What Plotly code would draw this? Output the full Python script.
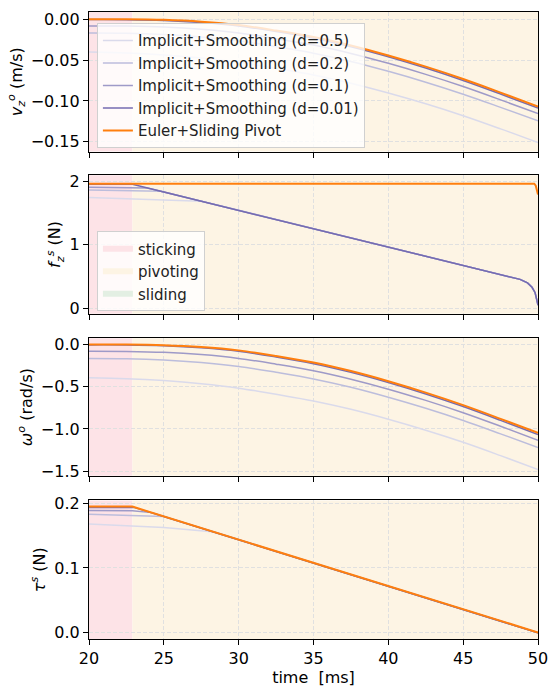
import plotly.graph_objects as go
from plotly.subplots import make_subplots

# ---- data -------------------------------------------------------------
t_grid = [20, 22.5, 25, 27.5, 30, 32.5, 35, 37.5, 40, 42.5, 45, 47.5, 50]

labels = ["Implicit+Smoothing (d=0.5)", "Implicit+Smoothing (d=0.2)",
          "Implicit+Smoothing (d=0.1)", "Implicit+Smoothing (d=0.01)",
          "Euler+Sliding Pivot"]
colors = ["#dadaeb", "#bcbddc", "#9e9ac8", "#756bb1", "#ff7f0e"]
widths = [1.5, 1.5, 1.5, 1.5, 2.0]

# object velocity v_z^o [m/s]
vz_d05 = [-0.0403, -0.0413, -0.0437, -0.0474, -0.0527, -0.0602, -0.0682, -0.0783, -0.0903, -0.1035, -0.1181, -0.1342, -0.1510]
vz_d02 = [-0.0168, -0.0171, -0.0187, -0.0217, -0.0265, -0.0337, -0.0416, -0.0517, -0.0638, -0.0771, -0.0918, -0.1079, -0.1244]
vz_d01 = [-0.0082, -0.0084, -0.0095, -0.0122, -0.0168, -0.0238, -0.0317, -0.0419, -0.0540, -0.0675, -0.0824, -0.0987, -0.1156]
vz_d001 = [-0.0005, -0.0006, -0.0016, -0.0041, -0.0083, -0.0151, -0.0232, -0.0336, -0.0459, -0.0598, -0.0750, -0.0916, -0.1088]
vz_euler = [0.0, 0.0, -0.0008, -0.0030, -0.0071, -0.0139, -0.0218, -0.0321, -0.0444, -0.0581, -0.0732, -0.0898, -0.1068]

# object angular velocity omega^o [rad/s]
w_d05 = [-0.395, -0.405, -0.428, -0.465, -0.517, -0.590, -0.669, -0.768, -0.885, -1.015, -1.158, -1.316, -1.480]
w_d02 = [-0.165, -0.168, -0.183, -0.213, -0.260, -0.330, -0.408, -0.507, -0.625, -0.756, -0.900, -1.058, -1.220]
w_d01 = [-0.080, -0.082, -0.093, -0.120, -0.165, -0.233, -0.311, -0.411, -0.529, -0.662, -0.808, -0.968, -1.133]
w_d001 = [-0.005, -0.006, -0.016, -0.040, -0.081, -0.148, -0.227, -0.329, -0.450, -0.586, -0.735, -0.898, -1.067]
w_euler = [0.0, 0.0, -0.008, -0.030, -0.070, -0.136, -0.214, -0.315, -0.435, -0.570, -0.718, -0.880, -1.047]

# normal contact force f_z^s [N]
fz_t_d001 = [20, 22.9, 25, 30, 35, 40, 45, 47, 48.2, 48.8, 49.3, 49.6, 49.8, 49.9, 50]
fz_d001 = [1.95, 1.95, 1.829, 1.542, 1.255, 0.969, 0.681, 0.566, 0.495, 0.455, 0.40, 0.33, 0.25, 0.17, 0.05]
fz_t_d01 = [20, 22.9, 23.9, 25, 30, 35, 40, 45, 47, 48.2, 48.8, 49.3, 49.6, 49.8, 49.9, 50]
fz_d01 = [1.905, 1.895, 1.893, 1.829, 1.542, 1.255, 0.969, 0.681, 0.566, 0.495, 0.455, 0.40, 0.33, 0.25, 0.17, 0.05]
fz_t_d02 = [20, 22.9, 24.8, 30, 35, 40, 45, 47, 48.2, 48.8, 49.3, 49.6, 49.8, 49.9, 50]
fz_d02 = [1.86, 1.848, 1.84, 1.542, 1.255, 0.969, 0.681, 0.566, 0.495, 0.455, 0.40, 0.33, 0.25, 0.17, 0.05]
fz_t_d05 = [20, 23, 25, 27.5, 30, 35, 40, 45, 47, 48.2, 48.8, 49.3, 49.6, 49.8, 49.9, 50]
fz_d05 = [1.745, 1.725, 1.71, 1.686, 1.542, 1.255, 0.969, 0.681, 0.566, 0.495, 0.455, 0.40, 0.33, 0.25, 0.17, 0.05]
fz_t_euler = [20, 49.75, 49.85, 49.93, 50]
fz_euler = [1.96, 1.96, 1.93, 1.87, 1.79]

# contact torque tau^s [N]
tau_t_euler = [20, 22.9, 50]
tau_euler = [0.195, 0.195, 0.0]
tau_t_d001 = [20, 23.0, 50]
tau_d001 = [0.1938, 0.1938, -0.0006]
tau_t_d01 = [20, 22.9, 24.2, 50]
tau_d01 = [0.189, 0.1885, 0.1857, -0.0006]
tau_t_d02 = [20, 23.0, 25.0, 50]
tau_d02 = [0.183, 0.1815, 0.1797, -0.0006]
tau_t_d05 = [20, 23.0, 25.0, 28.4, 50]
tau_d05 = [0.168, 0.165, 0.1625, 0.1555, -0.0006]

# contact modes over time
phase_names = ["sticking", "pivoting", "sliding"]
phase_colors = ["#fde3e7", "#fdf4e4", "#e3efe3"]
phase_spans = {"sticking": [(20, 22.9)], "pivoting": [(22.9, 50)], "sliding": []}

x_ticks = [20, 25, 30, 35, 40, 45, 50]

# ---- figure -----------------------------------------------------------
fig = make_subplots(rows=4, cols=1, shared_xaxes=True, vertical_spacing=0.04)

panels = [
    ([t_grid] * 5, [vz_d05, vz_d02, vz_d01, vz_d001, vz_euler], "spline"),
    ([fz_t_d05, fz_t_d02, fz_t_d01, fz_t_d001, fz_t_euler],
     [fz_d05, fz_d02, fz_d01, fz_d001, fz_euler], "linear"),
    ([t_grid] * 5, [w_d05, w_d02, w_d01, w_d001, w_euler], "spline"),
    ([tau_t_d05, tau_t_d02, tau_t_d01, tau_t_d001, tau_t_euler],
     [tau_d05, tau_d02, tau_d01, tau_d001, tau_euler], "linear"),
]

for row, (xs, ys, shape) in enumerate(panels, start=1):
    for k in range(5):
        fig.add_trace(go.Scatter(
            x=xs[k], y=ys[k], mode="lines", name=labels[k],
            line=dict(color=colors[k], width=widths[k], shape=shape),
            showlegend=(row == 1), legend="legend",
        ), row=row, col=1)

# legend entries for the contact modes
for name, col in zip(phase_names, phase_colors):
    fig.add_trace(go.Scatter(
        x=[None], y=[None], mode="none", fill="toself", fillcolor=col,
        name=name, showlegend=True, legend="legend2",
    ), row=2, col=1)

# shaded contact-mode spans in every panel
for row in range(1, 5):
    yref = "y domain" if row == 1 else f"y{row} domain"
    xref = "x" if row == 1 else f"x{row}"
    for name, col in zip(phase_names, phase_colors):
        for (a, b) in phase_spans[name]:
            fig.add_shape(type="rect", xref=xref, yref=yref, x0=a, x1=b,
                          y0=0, y1=1, fillcolor=col, line_width=0,
                          layer="below")

font = "DejaVu Sans, Verdana, sans-serif"
domains = [(0.7774, 1.0), (0.5188, 0.7398), (0.2602, 0.4796), (0.0, 0.2210)]
y_ranges = [(-0.162, 0.0088), (-0.085, 2.095), (-1.555, 0.073), (-0.0102, 0.2046)]
y_ticks = [[0.0, -0.05, -0.10, -0.15], [0, 1, 2], [0.0, -0.5, -1.0, -1.5], [0.0, 0.1, 0.2]]
y_fmt = [".2f", "d", ".1f", ".1f"]
y_titles = ["<i>v</i><sub><i>z</i></sub><sup><i>o</i></sup> (m/s)",
            "<i>f</i><sub><i>z</i></sub><sup><i>s</i></sup> (N)",
            "<i>ω</i><sup><i>o</i></sup> (rad/s)",
            "<i>τ</i><sup><i>s</i></sup> (N)"]

axis_common = dict(showline=True, linecolor="black", linewidth=1.2, mirror=True,
                   ticks="outside", ticklen=5, tickwidth=1, tickcolor="black",
                   showgrid=True, gridcolor="#e0e0e0", griddash="4px,2px", gridwidth=0.8,
                   zeroline=False, tickfont=dict(size=16, color="black"))

for i in range(4):
    sx = "" if i == 0 else str(i + 1)
    fig.layout["yaxis" + sx].update(
        domain=domains[i], range=list(y_ranges[i]), tickvals=y_ticks[i],
        tickformat=y_fmt[i], title=dict(text=y_titles[i], font=dict(size=16, color="black"), standoff=4),
        **axis_common)
    fig.layout["xaxis" + sx].update(
        range=[20, 50], tickvals=x_ticks, showticklabels=(i == 3), **axis_common)

fig.layout.xaxis4.title = dict(text="time  [ms]", font=dict(size=16, color="black"), standoff=2)

fig.update_layout(
    width=554, height=687,
    margin=dict(l=89, r=11, t=6, b=43),
    paper_bgcolor="white", plot_bgcolor="white",
    font=dict(family=font, color="black"),
    legend=dict(x=0.0176, y=0.982, xanchor="left", yanchor="top",
                bgcolor="rgba(255,255,255,0.8)", bordercolor="#d0d0d0", borderwidth=1,
                font=dict(size=15, color="#222222"), tracegroupgap=0),
    legend2=dict(x=0.0176, y=0.650, xanchor="left", yanchor="top",
                 bgcolor="rgba(255,255,255,0.8)", bordercolor="#d0d0d0", borderwidth=1,
                 font=dict(size=15, color="#222222"), tracegroupgap=0),
)

fig.write_html("out.html")
